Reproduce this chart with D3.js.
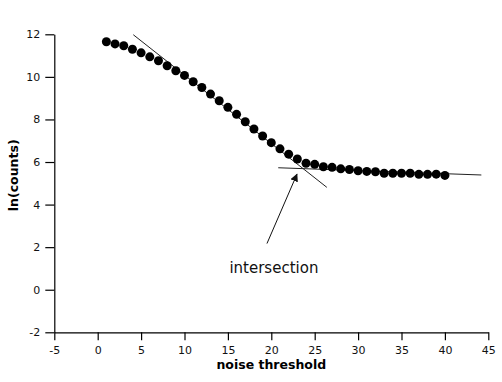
<!DOCTYPE html>
<html>
<head>
<meta charset="utf-8">
<script src="https://cdn.jsdelivr.net/npm/d3@7"></script>
<style>
  body { margin: 0; background: #fff; }
  text { font-family: "DejaVu Sans", sans-serif; }
</style>
</head>
<body>
<div id="chart"></div>
<script>
// data
var thresholds = [1, 2, 3, 4, 5, 6, 7, 8, 9, 10, 11, 12, 13, 14, 15, 16, 17, 18, 19, 20,
  21, 22, 23, 24, 25, 26, 27, 28, 29, 30, 31, 32, 33, 34, 35, 36, 37, 38, 39, 40];
var lnCounts = [11.65, 11.55, 11.46, 11.30, 11.13, 10.94, 10.76, 10.52, 10.29, 10.07,
  9.77, 9.50, 9.19, 8.88, 8.57, 8.24, 7.89, 7.55, 7.22, 6.91,
  6.62, 6.37, 6.14, 5.94, 5.89, 5.78, 5.75, 5.68, 5.65, 5.59,
  5.56, 5.54, 5.47, 5.47, 5.47, 5.47, 5.42, 5.42, 5.43, 5.37];
var steepFit = [[4.1, 11.98], [26.4, 4.81]];
var flatFit = [[20.8, 5.73], [44.2, 5.39]];
var arrowLine = [[19.5, 2.17], [22.96, 5.43]];
var noteLabel = { x: 20.3, y: 0.77, text: "intersection" };
var xTicks = [-5, 0, 5, 10, 15, 20, 25, 30, 35, 40, 45];
var yTicks = [-2, 0, 2, 4, 6, 8, 10, 12];

var svgWidth = 502;
var svgHeight = 382;
var margin = { top: 34.3, right: 13.7, bottom: 49.7, left: 54.3 };
var width = svgWidth - margin.left - margin.right;
var height = svgHeight - margin.top - margin.bottom;

var svg = d3.select("#chart")
  .append("svg")
  .attr("width", svgWidth)
  .attr("height", svgHeight);

svg.append("defs").append("marker")
  .attr("id", "head")
  .attr("viewBox", "0 0 10 10")
  .attr("refX", 9)
  .attr("refY", 5)
  .attr("markerWidth", 8)
  .attr("markerHeight", 8)
  .attr("markerUnits", "userSpaceOnUse")
  .attr("orient", "auto")
  .append("path")
  .attr("d", "M0,0 L10,5 L0,10 z")
  .attr("fill", "#111");

var chartGroup = svg.append("g")
  .attr("transform", `translate(${margin.left}, ${margin.top})`);

var xScale = d3.scaleLinear().domain([-5, 45]).range([0, width]);
var yScale = d3.scaleLinear().domain([-2, 12]).range([height, 0]);

// axes (plain hyphen for negatives, like the original)
var bottomAxis = d3.axisBottom(xScale).tickValues(xTicks).tickFormat(d => String(d))
  .tickSize(8).tickPadding(6).tickSizeOuter(0);
var leftAxis = d3.axisLeft(yScale).tickValues(yTicks).tickFormat(d => String(d))
  .tickSize(9).tickPadding(5).tickSizeOuter(0);

var xAxis = chartGroup.append("g")
  .attr("transform", `translate(0, ${height})`)
  .call(bottomAxis);
var yAxis = chartGroup.append("g")
  .call(leftAxis);

[xAxis, yAxis].forEach(function(ax) {
  ax.selectAll("path, line").attr("stroke", "#000").attr("stroke-width", 1.2);
  ax.selectAll("text")
    .attr("fill", "#111")
    .style("font-family", "DejaVu Sans")
    .style("font-size", "11px");
});

// fit lines
var line = d3.line()
  .x(d => xScale(d[0]))
  .y(d => yScale(d[1]));

chartGroup.append("path")
  .attr("d", line(steepFit))
  .attr("fill", "none")
  .attr("stroke", "#222")
  .attr("stroke-width", 1);

chartGroup.append("path")
  .attr("d", line(flatFit))
  .attr("fill", "none")
  .attr("stroke", "#222")
  .attr("stroke-width", 1);

// points
chartGroup.selectAll("circle")
  .data(thresholds)
  .enter()
  .append("circle")
  .attr("cx", d => xScale(d))
  .attr("cy", (d, i) => yScale(lnCounts[i]))
  .attr("r", 4.5)
  .attr("fill", "#000");

// annotation
chartGroup.append("path")
  .attr("d", line(arrowLine))
  .attr("fill", "none")
  .attr("stroke", "#111")
  .attr("stroke-width", 1)
  .attr("marker-end", "url(#head)");

chartGroup.append("text")
  .attr("x", xScale(noteLabel.x))
  .attr("y", yScale(noteLabel.y))
  .attr("text-anchor", "middle")
  .style("font-size", "15px")
  .attr("fill", "#111")
  .text(noteLabel.text);

// axis titles
chartGroup.append("text")
  .attr("x", width / 2)
  .attr("y", height + 37)
  .attr("text-anchor", "middle")
  .style("font-size", "12.5px")
  .style("font-weight", "bold")
  .text("noise threshold");

chartGroup.append("text")
  .attr("transform", "rotate(-90)")
  .attr("x", 0 - (height / 2) + 8)
  .attr("y", 0 - margin.left + 18)
  .attr("text-anchor", "middle")
  .style("font-size", "12.5px")
  .style("font-weight", "bold")
  .text("ln(counts)");
</script>
</body>
</html>
